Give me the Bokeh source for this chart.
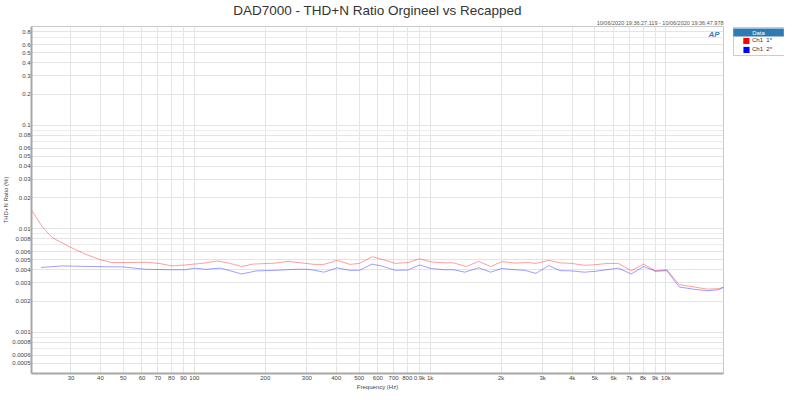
from bokeh.plotting import figure
from bokeh.models import (Range1d, FixedTicker, Label, Legend, LegendItem, Title,
                          BasicTickFormatter)
from bokeh.layouts import row
from bokeh.embed import file_html
from bokeh.resources import INLINE

# ---------------- data ----------------
title_text = "DAD7000 - THD+N Ratio Orgineel vs Recapped"
timestamp_text = "10/06/2020 19:36:27.119 - 10/06/2020 19:36:47.978"
x_label = "Frequency (Hz)"
y_label = "THD+N Ratio (%)"
legend_title = "Data"
series_names = ["Ch1  1*", "Ch1  2*"]
series_colors = ["#ff0000", "#0000ff"]

red_freq = [20.4, 22.7, 25.0, 29.7, 34.3, 40.2, 44.8, 50.1, 62.4, 70.9, 80.4, 91.2,
            110, 125, 140, 159, 177, 221, 251, 276, 323, 355, 403, 457, 502, 567,
            627, 711, 807, 901, 1006, 1142, 1256, 1424, 1606, 1805, 2017, 2287, 2596,
            2810, 3186, 3559, 3978, 4513, 5038, 5620, 6280, 7124, 8037, 9030, 10090,
            11380, 13420, 14990, 16730, 17540]
red_thdn = [0.0152, 0.0104, 0.0082, 0.00667, 0.00572, 0.00499, 0.00472, 0.00472, 0.00475,
            0.00463, 0.00438, 0.00447, 0.00466, 0.00489, 0.00466, 0.00432, 0.00456, 0.00466,
            0.00485, 0.00472, 0.00453, 0.00453, 0.00496, 0.00453, 0.00463, 0.00537, 0.00506,
            0.00463, 0.00472, 0.00513, 0.00479, 0.00469, 0.00469, 0.00432, 0.00485, 0.00432,
            0.00482, 0.00466, 0.00472, 0.00463, 0.00496, 0.00469, 0.00463, 0.00444, 0.0045,
            0.00463, 0.00463, 0.00394, 0.00456, 0.00392, 0.00402, 0.00289, 0.00272, 0.00261,
            0.00264, 0.00272]

blue_freq = [22.4, 27.5, 36.5, 50.1, 62.4, 80.4, 91.2, 100.3, 112, 129, 159, 183, 221,
             267, 303, 323, 355, 403, 457, 502, 567, 627, 711, 807, 901, 1006, 1142, 1256,
             1403, 1606, 1805, 2017, 2287, 2515, 2810, 3186, 3559, 3978, 4513, 5038, 5620,
             6280, 7124, 8037, 9030, 10090, 11380, 13420, 14990, 16730, 17540]
blue_thdn = [0.00423, 0.00438, 0.00432, 0.00428, 0.00406, 0.00402, 0.00402, 0.00417, 0.00406,
             0.00417, 0.00366, 0.00392, 0.00397, 0.00406, 0.00406, 0.00397, 0.00381, 0.0042,
             0.00397, 0.00397, 0.00456, 0.00435, 0.00397, 0.004, 0.00447, 0.00414, 0.00402,
             0.00402, 0.00381, 0.0042, 0.00381, 0.00414, 0.00402, 0.00397, 0.00371, 0.00441,
             0.00394, 0.00392, 0.00381, 0.00389, 0.00402, 0.00417, 0.00366, 0.00432, 0.00389,
             0.00394, 0.00274, 0.00259, 0.00252, 0.00258, 0.00272]

x_ticks = [30, 40, 50, 60, 70, 80, 90, 100, 200, 300, 400, 500, 600, 700, 800, 900,
           1000, 2000, 3000, 4000, 5000, 6000, 7000, 8000, 9000, 10000]
x_tick_labels = ["30", "40", "50", "60", "70", "80", "90", "100", "200", "300", "400",
                 "500", "600", "700", "800", "0.9k", "1k", "2k", "3k", "4k", "5k", "6k",
                 "7k", "8k", "9k", "10k"]
y_ticks = [0.0005, 0.0006, 0.0008, 0.001, 0.002, 0.003, 0.004, 0.005, 0.006, 0.008,
           0.01, 0.02, 0.03, 0.04, 0.05, 0.06, 0.08, 0.1, 0.2, 0.3, 0.4, 0.5, 0.6, 0.8]
y_tick_labels = ["0.0005", "0.0006", "0.0008", "0.001", "0.002", "0.003", "0.004",
                 "0.005", "0.006", "0.008", "0.01", "0.02", "0.03", "0.04", "0.05",
                 "0.06", "0.08", "0.1", "0.2", "0.3", "0.4", "0.5", "0.6", "0.8"]
y_grid_only = [0.0007, 0.0009, 0.007, 0.009, 0.07, 0.09, 0.7, 0.9]
x_limits = (20.4, 17540)
y_limits = (0.0004, 0.9)

# ---------------- layout constants ----------------
FONT = "Liberation Sans"
H = 392
TOP = 18
BOTTOM = 12

# ---------------- main figure ----------------
p = figure(width=732, height=H, x_axis_type="log", y_axis_type="log",
           x_range=Range1d(*x_limits), y_range=Range1d(*y_limits),
           output_backend="svg", toolbar_location=None, title=None,
           min_border_left=18, min_border_right=9, min_border_top=TOP,
           min_border_bottom=BOTTOM)

p.add_layout(Title(text=timestamp_text, align="right", text_font=FONT,
                   text_font_size="5.5px", text_font_style="normal",
                   text_color="#555555", standoff=1, offset=0), "above")
p.add_layout(Title(text=title_text, align="center", text_font=FONT,
                   text_font_size="13.5px", text_font_style="normal",
                   text_color="#333333", standoff=0, offset=0), "above")

p.outline_line_color = "#c8c8c8"
p.background_fill_color = "white"
p.border_fill_color = "white"

p.xaxis.ticker = FixedTicker(ticks=x_ticks)
p.yaxis.ticker = FixedTicker(ticks=y_ticks, minor_ticks=y_grid_only)
p.xaxis.formatter = BasicTickFormatter()
p.yaxis.formatter = BasicTickFormatter()
p.xaxis.major_label_overrides = dict(zip(x_ticks, x_tick_labels))
p.yaxis.major_label_overrides = dict(zip(y_ticks, y_tick_labels))
p.xaxis.axis_label = x_label
p.yaxis.axis_label = y_label

for ax in (p.xaxis[0], p.yaxis[0]):
    ax.major_tick_line_color = None
    ax.minor_tick_line_color = None
    ax.major_tick_out = 0
    ax.major_tick_in = 0
    ax.minor_tick_out = 0
    ax.minor_tick_in = 0
    ax.axis_line_color = "#a8a8a8"
    ax.axis_line_width = 2
    ax.major_label_text_font = FONT
    ax.major_label_text_font_size = "6px"
    ax.major_label_text_color = "#444444"
    ax.major_label_text_line_height = 1.0
    ax.major_label_standoff = 1
    ax.axis_label_text_font = FONT
    ax.axis_label_text_font_size = "6px"
    ax.axis_label_text_font_style = "normal"
    ax.axis_label_text_color = "#444444"
    ax.axis_label_standoff = 0

p.xgrid.grid_line_color = "#e4e4e4"
p.ygrid.grid_line_color = "#e4e4e4"
p.ygrid.minor_grid_line_color = "#ececec"

p.line(red_freq, red_thdn, line_color=series_colors[0], line_alpha=0.38, line_width=1)
p.line(blue_freq, blue_thdn, line_color=series_colors[1], line_alpha=0.38, line_width=1)

logo = Label(x=x_limits[1], y=y_limits[1], x_offset=-4, y_offset=-3,
             text="AP", text_align="right", text_baseline="top",
             text_font=FONT, text_font_size="8px", text_font_style="bold italic",
             text_color="#3b7fc4")
p.add_layout(logo)

# ---------------- legend panel ----------------
lf = figure(width=52, height=H, x_range=Range1d(0, 1), y_range=Range1d(0, 1),
            x_axis_location=None, y_axis_location=None,
            output_backend="svg", toolbar_location=None,
            min_border_left=0, min_border_right=0, min_border_top=TOP,
            min_border_bottom=BOTTOM)
lf.xgrid.visible = False
lf.ygrid.visible = False
lf.outline_line_color = None
lf.background_fill_color = "white"
lf.border_fill_color = "white"

header = Label(x=0.5, y=1, y_offset=-2, text=legend_title, text_align="center",
               text_baseline="top", text_font=FONT, text_font_size="6px",
               text_color="white", background_fill_color="#2f7ab2",
               padding=(19, 1))
lf.add_layout(header)

for i, c in enumerate(series_colors):
    lf.add_layout(Label(x=0, y=1, x_offset=10, y_offset=-14 - 9 * i, text="\u25A0",
                        text_align="left", text_baseline="middle",
                        text_font="DejaVu Sans", text_font_size="8px",
                        text_color=c))

legend = Legend(items=[LegendItem(label=series_names[0]),
                       LegendItem(label=series_names[1])],
                location="top_left", margin=1, padding=2, spacing=1,
                title=legend_title, title_text_font=FONT, title_text_font_size="6px",
                title_text_alpha=0.0, title_standoff=0,
                glyph_width=14, glyph_height=6, label_height=8, label_width=30,
                label_standoff=2, label_text_font=FONT, label_text_font_size="6px",
                label_text_color="#333333", border_line_color="#9a9a9a",
                background_fill_alpha=0.0)
lf.add_layout(legend)

layout = row(p, lf)
open("out.html", "w").write(file_html(layout, INLINE))
